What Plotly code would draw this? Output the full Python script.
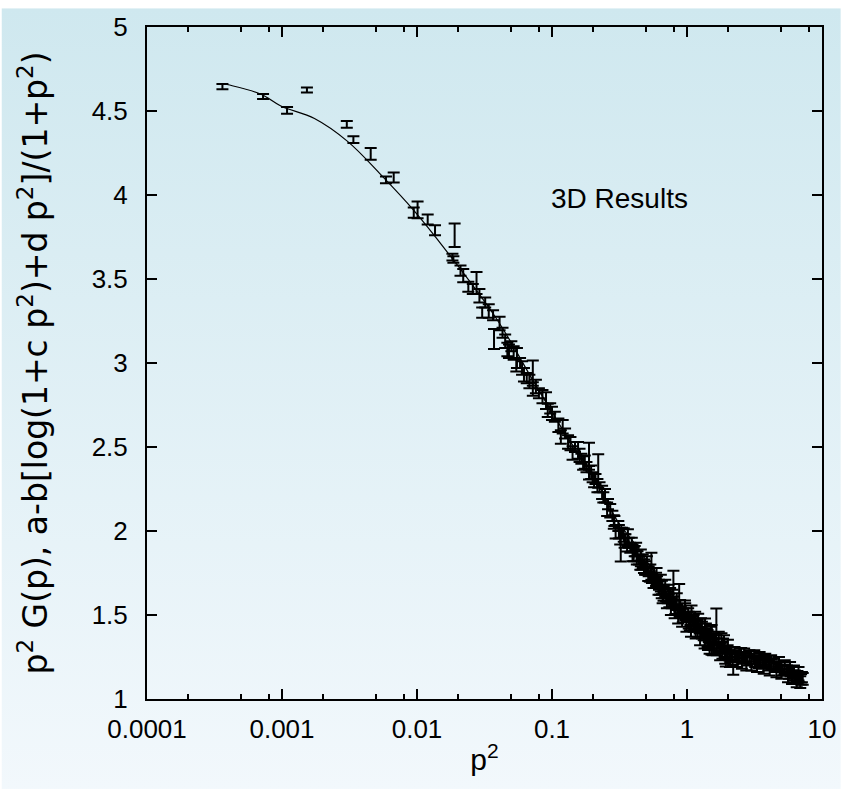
import base64
import plotly.graph_objects as go

# ---------------- data ----------------
p2_low = [0.000362, 0.000724, 0.00109, 0.00153, 0.00302, 0.00338, 0.00454, 0.00589,
          0.00672, 0.00946, 0.0101, 0.0120, 0.0136, 0.0183, 0.0186, 0.0190, 0.021,
          0.022, 0.024, 0.0259, 0.0276, 0.029, 0.0304, 0.032, 0.034, 0.0366, 0.0372,
          0.0409, 0.043, 0.045, 0.0467, 0.048, 0.050, 0.052, 0.0544, 0.055, 0.058,
          0.060, 0.062, 0.065, 0.068, 0.0721, 0.0721, 0.076, 0.080, 0.085, 0.0903,
          0.093, 0.097, 0.100, 0.105, 0.1115, 0.1163, 0.12, 0.125, 0.1315, 0.137,
          0.142, 0.148, 0.156, 0.16, 0.165, 0.17, 0.175, 0.18, 0.188, 0.188, 0.195,
          0.20, 0.205, 0.21, 0.217, 0.22, 0.225, 0.235, 0.24, 0.247, 0.256, 0.26,
          0.27, 0.28, 0.287, 0.29, 0.296]
g_low = [4.645, 4.586, 4.504, 4.625, 4.420, 4.330, 4.245, 4.090,
         4.104, 3.895, 3.912, 3.854, 3.790, 3.630, 3.616, 3.760, 3.55,
         3.52, 3.454, 3.44, 3.476, 3.40, 3.30, 3.36, 3.31, 3.284, 3.143,
         3.235, 3.18, 3.13, 3.08, 3.07, 3.10, 3.06, 2.99, 3.03, 3.00,
         2.97, 2.93, 2.91, 2.89, 2.94, 2.845, 2.86, 2.82, 2.80, 2.776,
         2.718, 2.73, 2.70, 2.68, 2.63, 2.56, 2.62, 2.58, 2.53, 2.52,
         2.464, 2.50, 2.48, 2.45, 2.43, 2.405, 2.41, 2.38, 2.445, 2.347, 2.35,
         2.32, 2.30, 2.31, 2.27, 2.357, 2.26, 2.23, 2.20, 2.21, 2.13, 2.16,
         2.12, 2.09, 2.054, 2.06, 1.996]
err_low = [0.015, 0.015, 0.02, 0.015, 0.02, 0.02, 0.035, 0.02,
           0.03, 0.03, 0.05, 0.03, 0.03, 0.02, 0.02, 0.07, 0.03,
           0.04, 0.03, 0.03, 0.066, 0.04, 0.03, 0.03, 0.04, 0.03, 0.06,
           0.04, 0.03, 0.04, 0.04, 0.04, 0.03, 0.04, 0.04, 0.06, 0.03,
           0.04, 0.04, 0.03, 0.04, 0.075, 0.04, 0.04, 0.03, 0.04, 0.05,
           0.04, 0.03, 0.04, 0.03, 0.04, 0.04, 0.04, 0.03, 0.04, 0.04,
           0.04, 0.03, 0.05, 0.04, 0.03, 0.04, 0.04, 0.03, 0.08, 0.04, 0.04,
           0.03, 0.04, 0.03, 0.04, 0.10, 0.03, 0.04, 0.03, 0.04, 0.04, 0.03,
           0.04, 0.03, 0.04, 0.03, 0.04]

p2_high = [0.31, 0.313, 0.323, 0.33, 0.34, 0.35, 0.36, 0.37, 0.38, 0.39, 0.403,
           0.41, 0.42, 0.43, 0.44, 0.451, 0.46, 0.47, 0.489, 0.50, 0.516, 0.52,
           0.53, 0.545, 0.55, 0.57, 0.58, 0.59, 0.60, 0.62, 0.63, 0.65, 0.652,
           0.67, 0.68, 0.70, 0.72, 0.74, 0.75, 0.77, 0.793, 0.80, 0.82, 0.83,
           0.85, 0.875, 0.88, 0.90, 0.93, 0.95, 0.966, 1.00, 1.02, 1.05, 1.06,
           1.08, 1.10, 1.13, 1.15, 1.18, 1.21, 1.24, 1.27, 1.30, 1.33, 1.36,
           1.40, 1.43, 1.45, 1.48, 1.52, 1.52, 1.55, 1.58, 1.62, 1.65, 1.70,
           1.74, 1.78, 1.80, 1.85, 1.90, 1.94, 1.97, 2.01, 2.05, 2.10, 2.15,
           2.20, 2.30, 2.40, 2.52, 2.60, 2.70, 2.80, 2.99, 3.10, 3.20, 3.39,
           3.50, 3.60, 3.75, 3.90, 4.00, 4.24, 4.40, 4.50, 4.69, 4.90, 5.10,
           5.26, 5.50, 5.70, 5.90, 6.10, 6.30, 6.40, 6.58, 6.80, 7.00, 7.10]
g_high = [2.03, 1.996, 1.888, 1.99, 1.976, 1.95, 1.918, 1.93, 1.90, 1.92, 1.86,
          1.88, 1.89, 1.85, 1.83, 1.81, 1.80, 1.82, 1.78, 1.77, 1.742, 1.76,
          1.73, 1.79, 1.72, 1.74, 1.69, 1.712, 1.70, 1.68, 1.65, 1.63, 1.664,
          1.625, 1.64, 1.61, 1.60, 1.586, 1.62, 1.57, 1.664, 1.58, 1.546, 1.56,
          1.53, 1.605, 1.55, 1.52, 1.497, 1.51, 1.546, 1.49, 1.50, 1.449, 1.47,
          1.517, 1.46, 1.44, 1.48, 1.43, 1.468, 1.42, 1.44, 1.40, 1.38, 1.439,
          1.39, 1.332, 1.37, 1.35, 1.40, 1.303, 1.36, 1.33, 1.35, 1.439, 1.33,
          1.31, 1.30, 1.351, 1.32, 1.28, 1.234, 1.27, 1.312, 1.26, 1.28, 1.25,
          1.175, 1.26, 1.25, 1.273, 1.24, 1.25, 1.23, 1.254, 1.24, 1.22, 1.215,
          1.23, 1.21, 1.234, 1.22, 1.20, 1.205, 1.21, 1.19, 1.195, 1.19, 1.17,
          1.176, 1.17, 1.15, 1.166, 1.16, 1.14, 1.12, 1.136, 1.13, 1.117, 1.13]
err_high = [0.03, 0.04, 0.07, 0.03, 0.04, 0.03, 0.04, 0.03, 0.03, 0.04, 0.04,
            0.03, 0.04, 0.03, 0.03, 0.04, 0.03, 0.04, 0.04, 0.03, 0.04, 0.03,
            0.03, 0.08, 0.03, 0.04, 0.03, 0.04, 0.03, 0.03, 0.03, 0.03, 0.04,
            0.04, 0.04, 0.03, 0.03, 0.04, 0.04, 0.03, 0.10, 0.03, 0.04, 0.03,
            0.03, 0.08, 0.04, 0.03, 0.04, 0.03, 0.04, 0.03, 0.04, 0.04, 0.03,
            0.04, 0.03, 0.03, 0.04, 0.03, 0.04, 0.03, 0.04, 0.03, 0.03, 0.04,
            0.03, 0.04, 0.03, 0.03, 0.04, 0.04, 0.03, 0.03, 0.03, 0.10, 0.03,
            0.03, 0.03, 0.04, 0.04, 0.03, 0.04, 0.03, 0.04, 0.03, 0.03, 0.03,
            0.03, 0.03, 0.03, 0.03, 0.03, 0.03, 0.03, 0.03, 0.03, 0.03, 0.03,
            0.03, 0.03, 0.03, 0.03, 0.03, 0.03, 0.03, 0.03, 0.03, 0.03, 0.03,
            0.03, 0.03, 0.03, 0.03, 0.03, 0.03, 0.03, 0.03, 0.03, 0.03, 0.03]

p2_dense = [0.32, 0.345, 0.365, 0.395, 0.425, 0.455, 0.48, 0.505, 0.535, 0.565,
            0.595, 0.615, 0.64, 0.66, 0.69, 0.71, 0.73, 0.76, 0.78, 0.81, 0.84,
            0.86, 0.89, 0.92, 0.97, 0.99, 1.03, 1.07, 1.12, 1.16, 1.20, 1.25,
            1.29, 1.35, 1.38, 1.42, 1.47, 1.50, 1.56, 1.60, 1.66, 1.72, 1.76,
            1.83, 1.88, 1.92, 2.00, 2.08, 2.18, 2.25, 2.35, 2.45, 2.55, 2.65,
            2.75, 2.90, 3.00, 3.15, 3.30, 3.45, 3.70, 3.80, 4.10, 4.20, 4.60,
            4.80, 5.00, 5.30, 5.60, 5.80, 6.00, 6.20, 6.50, 6.70, 6.90, 7.20]
g_dense = [1.97, 1.94, 1.96, 1.87, 1.84, 1.84, 1.79, 1.80, 1.75, 1.70,
           1.73, 1.66, 1.69, 1.62, 1.66, 1.58, 1.63, 1.55, 1.60, 1.52, 1.58,
           1.50, 1.54, 1.47, 1.52, 1.45, 1.47, 1.42, 1.45, 1.40, 1.42, 1.37,
           1.41, 1.35, 1.40, 1.36, 1.32, 1.38, 1.31, 1.34, 1.30, 1.35, 1.28,
           1.29, 1.33, 1.25, 1.28, 1.23, 1.24, 1.27, 1.23, 1.26, 1.22, 1.26,
           1.21, 1.25, 1.21, 1.25, 1.20, 1.24, 1.19, 1.23, 1.18, 1.22, 1.17,
           1.21, 1.16, 1.19, 1.14, 1.18, 1.13, 1.16, 1.11, 1.15, 1.10, 1.12]
err_dense = [0.05, 0.04, 0.05, 0.05, 0.04, 0.05, 0.04, 0.05, 0.05, 0.04,
             0.05, 0.04, 0.05, 0.05, 0.05, 0.04, 0.05, 0.05, 0.05, 0.04, 0.05,
             0.05, 0.05, 0.04, 0.05, 0.05, 0.05, 0.05, 0.05, 0.04, 0.05, 0.05,
             0.05, 0.05, 0.05, 0.05, 0.05, 0.05, 0.05, 0.05, 0.04, 0.05, 0.05,
             0.05, 0.05, 0.04, 0.04, 0.04, 0.04, 0.04, 0.04, 0.04, 0.04, 0.04,
             0.04, 0.04, 0.04, 0.04, 0.04, 0.04, 0.04, 0.04, 0.04, 0.04, 0.04,
             0.04, 0.04, 0.04, 0.04, 0.04, 0.04, 0.04, 0.04, 0.04, 0.035, 0.035]

# fit curve a-b[log(1+c p^2)+d p^2]/(1+p^2)
fit_p2 = [0.00037, 0.0004, 0.0007, 0.00098, 0.00174, 0.00306, 0.00537, 0.00946,
          0.0166, 0.0387, 0.0763, 0.134, 0.211, 0.30, 0.415, 0.55, 0.70, 0.85,
          1.0, 1.25, 1.5, 2.0, 2.5, 3.0, 4.0, 5.0, 6.0, 7.0]
fit_g = [4.662, 4.656, 4.600, 4.530, 4.455, 4.319, 4.123, 3.909,
         3.665, 3.265, 2.864, 2.542, 2.308, 2.070, 1.918, 1.775, 1.655, 1.560,
         1.490, 1.420, 1.365, 1.300, 1.265, 1.240, 1.205, 1.180, 1.160, 1.140]

x_tickvals = [1e-4, 1e-3, 1e-2, 1e-1, 1, 10]
x_ticktext = ["0.0001", "0.001", "0.01", "0.1", "1", "10"]
x_minor = [m * d for d in [1e-4, 1e-3, 1e-2, 1e-1, 1] for m in (2, 5, 8)]
y_tickvals = [1, 1.5, 2, 2.5, 3, 3.5, 4, 4.5, 5]
y_ticktext = ["1", "1.5", "2", "2.5", "3", "3.5", "4", "4.5", "5"]

# ---------------- figure ----------------
W, H = 848, 790
ML, MR, MT, MB = 147, 19, 19, 91
PW, PH = W - ML - MR, H - MT - MB

svg = ('<svg xmlns="http://www.w3.org/2000/svg" width="848" height="790">'
       '<defs><linearGradient id="g" x1="0" y1="0" x2="0" y2="1">'
       '<stop offset="0" stop-color="#cfe8ef"/><stop offset="1" stop-color="#f2f8fc"/>'
       '</linearGradient></defs><rect width="848" height="790" fill="url(#g)"/></svg>')
bg_src = "data:image/svg+xml;base64," + base64.b64encode(svg.encode()).decode()

font = "Liberation Sans, Arial, sans-serif"

fig = go.Figure()
fig.add_trace(go.Scatter(
    x=p2_low + p2_high + p2_dense, y=g_low + g_high + g_dense, mode="markers",
    marker=dict(size=1, color="black"),
    error_y=dict(type="data", array=err_low + err_high + err_dense, visible=True,
                 color="black", thickness=2, width=6),
    showlegend=False, hoverinfo="x+y"))
fig.add_trace(go.Scatter(
    x=fit_p2, y=fit_g, mode="lines", line=dict(color="black", width=1.2, shape="spline"),
    showlegend=False))

fig.add_annotation(x=-0.50, y=3.98, xref="x", yref="y", text="3D Results",
                   showarrow=False, font=dict(family=font, size=28, color="black"))

fig.add_layout_image(dict(source=bg_src, xref="paper", yref="paper",
                          x=-ML / PW, y=1 + MT / PH, sizex=W / PW, sizey=H / PH,
                          xanchor="left", yanchor="top", sizing="stretch",
                          layer="below"))

fig.update_layout(
    width=W, height=H, margin=dict(l=ML, r=MR, t=MT, b=MB),
    paper_bgcolor="rgba(0,0,0,0)", plot_bgcolor="rgba(0,0,0,0)",
    font=dict(family=font, size=26, color="black"),
    xaxis=dict(type="log", range=[-4, 1], tickmode="array", tickvals=x_tickvals,
               ticktext=x_ticktext, ticks="inside", ticklen=10, tickwidth=2,
               tickcolor="black", showline=True, linewidth=2, linecolor="black",
               mirror="ticks", showgrid=False, zeroline=False,
               ticklabelstandoff=6,
               minor=dict(tickmode="array", tickvals=x_minor, ticks="inside",
                          ticklen=5, tickwidth=2, tickcolor="black", showgrid=False),
               title=dict(text="p<sup>2</sup>", font=dict(size=30), standoff=6)),
    yaxis=dict(range=[1, 5], tickmode="array", tickvals=y_tickvals,
               ticktext=y_ticktext, ticks="inside", ticklen=10, tickwidth=2,
               tickcolor="black", showline=True, linewidth=2, linecolor="black",
               mirror="ticks", showgrid=False, zeroline=False,
               ticklabelstandoff=12,
               title=dict(text="p<sup>2</sup> G(p), a-b[log(1+c p<sup>2</sup>)+d p<sup>2</sup>]/(1+p<sup>2</sup>)",
                          font=dict(family="DejaVu Sans", size=33), standoff=34)),
)

fig.write_html("out.html")
